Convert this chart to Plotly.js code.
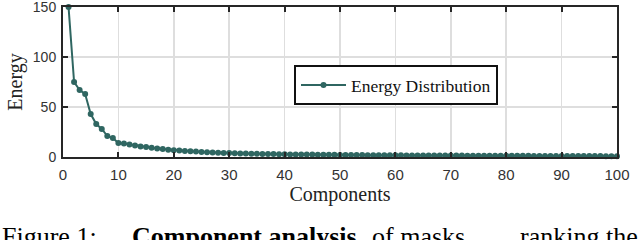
<!DOCTYPE html>
<html>
<head>
<meta charset="utf-8">
<script src="https://cdn.plot.ly/plotly-3.0.1.min.js"></script>
<style>html,body{margin:0;padding:0;background:#fff;}#chart{width:640px;height:240px;}</style>
</head>
<body>
<div id="chart"></div>
<script>
const components = [];
for (let i = 1; i <= 100; i++) components.push(i);
const energy = [
  150, 75, 67, 63, 43, 33, 28, 21, 19, 14,
  13.5, 12.5, 11.5, 10.5, 10, 9.2, 8.5, 8, 7.3, 6.8,
  6.4, 6, 5.7, 5.4, 5.1, 4.8, 4.5, 4.3, 4.1, 3.9,
  3.7, 3.6, 3.4, 3.3, 3.2, 3.1, 3, 2.9, 2.8, 2.7,
  2.6, 2.55, 2.5, 2.45, 2.4, 2.3, 2.25, 2.2, 2.15, 2.1,
  2.05, 2, 1.95, 1.9, 1.85, 1.8, 1.78, 1.75, 1.72, 1.7,
  1.65, 1.62, 1.6, 1.57, 1.55, 1.52, 1.5, 1.47, 1.45, 1.42,
  1.4, 1.38, 1.36, 1.34, 1.32, 1.3, 1.28, 1.26, 1.24, 1.22,
  1.2, 1.18, 1.16, 1.14, 1.12, 1.1, 1.08, 1.06, 1.04, 1.02,
  1, 0.98, 0.96, 0.94, 0.92, 0.9, 0.88, 0.86, 0.84, 0.82
];
const xTicks = [0, 10, 20, 30, 40, 50, 60, 70, 80, 90, 100];
const yTicks = [0, 50, 100, 150];
const seriesName = 'Energy Distribution';
const xLabel = 'Components';
const yLabel = 'Energy';
const captionParts = ['Figure 1:', '<b>Component analysis</b>', 'of masks,', 'ranking the'];

const color = '#2f6661';
const serif = '"Liberation Serif", "Times New Roman", serif';
const sans = '"Liberation Sans", Arial, sans-serif';

const trace = {
  x: components, y: energy, name: seriesName, type: 'scatter', mode: 'lines+markers',
  line: {color: color, width: 2},
  marker: {color: color, size: 6},
  cliponaxis: false
};

const axisCommon = {
  showline: true, linecolor: '#262626', linewidth: 2, mirror: 'ticks',
  ticks: 'inside', ticklen: 5, tickwidth: 2, tickcolor: '#262626',
  showgrid: true, gridcolor: '#dedede', gridwidth: 1.5, zeroline: false,
  ticklabeloverflow: 'allow'
};

const W = 554, L = 63;
function px(p){ return (p - L) / W; }
function py(p){ return (157 - p) / 150; }

const capY = py(220);
const capFont = {family: serif, size: 26, color: '#000'};

const layout = {
  width: 640, height: 240,
  margin: {l: 63, r: 23, t: 7, b: 83},
  paper_bgcolor: '#fff', plot_bgcolor: '#fff',
  showlegend: true,
  legend: {
    x: px(294), y: py(65), xanchor: 'left', yanchor: 'top',
    bgcolor: '#fff', bordercolor: '#111', borderwidth: 2,
    itemwidth: 45,
    font: {family: serif, size: 17.5, color: '#111'}
  },
  xaxis: Object.assign({}, axisCommon, {
    range: [0, 100], tickvals: xTicks, ticktext: xTicks.map(String),
    ticklabelstandoff: 3,
    tickfont: {family: sans, size: 15, color: '#333'},
    title: {text: xLabel, font: {family: serif, size: 20, color: '#222'}, standoff: 5}
  }),
  yaxis: Object.assign({}, axisCommon, {
    range: [0, 150], tickvals: yTicks, ticktext: yTicks.map(String),
    ticklabelstandoff: 2,
    tickfont: {family: sans, size: 14, color: '#333'},
    title: {text: yLabel, font: {family: serif, size: 20, color: '#222'}, standoff: 5}
  }),
  annotations: [
    {xref: 'paper', yref: 'paper', x: px(0), y: capY, xanchor: 'left', yanchor: 'top', showarrow: false,
     text: captionParts[0], font: capFont},
    {xref: 'paper', yref: 'paper', x: px(130), y: capY, xanchor: 'left', yanchor: 'top', showarrow: false,
     text: captionParts[1], font: capFont},
    {xref: 'paper', yref: 'paper', x: px(370), y: capY, xanchor: 'left', yanchor: 'top', showarrow: false,
     text: captionParts[2], font: capFont},
    {xref: 'paper', yref: 'paper', x: px(640), y: capY, xanchor: 'right', yanchor: 'top', showarrow: false,
     text: captionParts[3], font: capFont}
  ]
};

Plotly.newPlot('chart', [trace], layout, {staticPlot: true, displayModeBar: false});
</script>
</body>
</html>
